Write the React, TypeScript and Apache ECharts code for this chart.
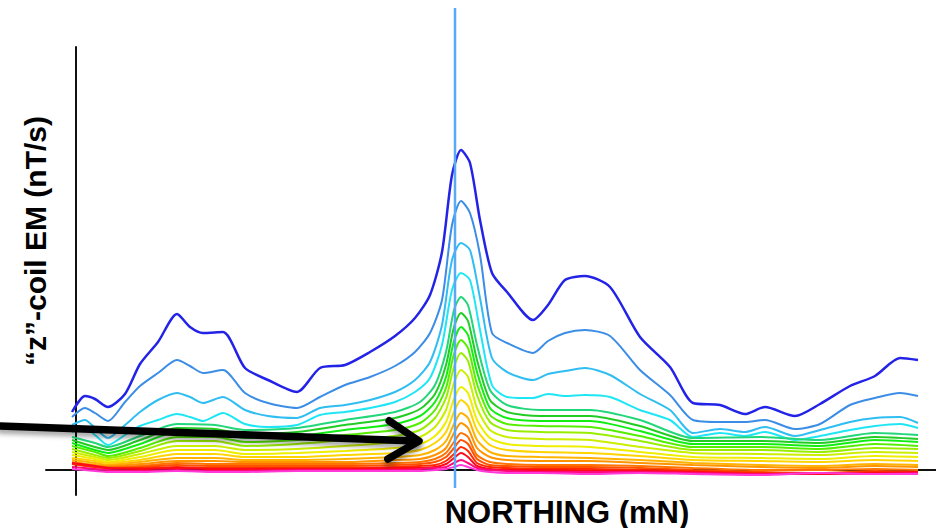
import React, { useEffect, useRef } from 'react';
import * as echarts from 'echarts';

// Northing positions (relative units) for the upper channels
const X_TOP = [-4, 9, 19, 32, 49, 64, 82, 101, 114, 127, 147, 169, 192, 221, 244, 269, 294, 319, 339, 354, 366, 376, 385, 394, 404, 416, 431, 457, 472, 489, 509, 534, 564, 594, 617, 644, 669, 689, 719, 744, 774, 799, 824, 842];

const CH1 = [58, 74, 71, 63, 76, 106, 128, 156, 143, 137, 138, 102, 90, 78, 102, 105, 118, 134, 152, 175, 218, 295, 320, 307, 250, 197, 178, 150, 165, 190, 194, 183, 133, 103, 67, 65, 56, 63, 54, 66, 84, 94, 112, 110];
const CH2 = [53, 62, 57, 49, 68, 84, 97, 110, 104, 97, 100, 77, 67, 62, 73, 85, 93, 104, 118, 137, 170, 245, 269, 257, 215, 137, 127, 117, 129, 137, 140, 134, 100, 75, 50, 48, 48, 50, 41, 46, 65, 72, 77, 74];
const CH3 = [45, 50, 42, 32, 45, 58, 70, 77, 73, 67, 73, 60, 54, 52, 62, 65, 70, 78, 90, 108, 145, 210, 227, 220, 172, 112, 98, 90, 96, 99, 102, 95, 76, 60, 37, 41, 38, 43, 34, 40, 48, 52, 53, 47];
const CH4 = [38, 42, 35, 25, 35, 44, 50, 56, 53, 49, 57, 46, 43, 45, 55, 58, 62, 68, 78, 92, 125, 180, 197, 190, 140, 85, 73, 72, 76, 74, 75, 73, 60, 50, 33, 37, 34, 38, 30, 34, 40, 44, 46, 42];

// Northing positions for the later channels
const X_LOW = [-4, 19, 32, 64, 101, 139, 169, 221, 269, 319, 344, 359, 370, 378, 385, 392, 401, 414, 431, 464, 514, 564, 617, 684, 744, 799, 842];

const CH5 = [33, 27, 23, 34, 46, 45, 40, 42, 50, 58, 68, 85, 118, 160, 173, 165, 125, 80, 65, 60, 60, 50, 32, 33, 30, 37, 35];
const CH6 = [30, 23, 20, 30, 42, 41, 36, 38, 45, 52, 61, 76, 105, 143, 157, 149, 110, 70, 58, 54, 54, 44, 29, 29, 27, 33, 31];
const CH7 = [27, 20, 17, 26, 38, 37, 32, 34, 40, 46, 54, 68, 93, 129, 143, 135, 98, 62, 52, 49, 49, 39, 26, 26, 24, 30, 28];
const CH8 = [24, 18, 14, 22, 33, 33, 28, 30, 35, 40, 47, 60, 82, 116, 130, 122, 86, 55, 46, 44, 43, 34, 23, 23, 21, 26, 24];
const CH9 = [21, 15, 12, 19, 29, 29, 24, 26, 30, 34, 40, 52, 72, 103, 117, 109, 75, 48, 40, 38, 37, 29, 20, 20, 18, 22, 21];
const CH10 = [18, 13, 10, 16, 24, 24, 20, 21, 24, 28, 33, 43, 60, 87, 100, 93, 62, 40, 33, 31, 30, 23, 17, 16, 15, 18, 17];
const CH11 = [15, 11, 8, 13, 20, 20, 16, 17, 19, 22, 26, 34, 48, 71, 83, 77, 50, 32, 26, 24, 23, 18, 13, 12, 11, 14, 13];
const CH12 = [12, 9, 7, 10, 16, 16, 13, 13, 15, 17, 20, 27, 38, 58, 70, 64, 40, 25, 20, 18, 17, 14, 10, 9, 8, 10, 9];
const CH13 = [10, 7, 5, 8, 12, 12, 10, 10, 11, 13, 15, 20, 29, 46, 57, 52, 30, 18, 14, 13, 12, 10, 7, 5, 4, 6, 5];
const CH14 = [8, 5, 4, 6, 9, 9, 8, 8, 8, 10, 11, 15, 22, 37, 47, 42, 22, 13, 10, 9, 9, 7, 5, 3, 2, 4, 3];
const CH15 = [7, 4, 3, 4, 7, 6, 6, 6, 6, 7, 8, 11, 17, 28, 37, 33, 15, 8, 6, 5, 5, 4, 2, 0, 0, 1, 0];
const CH16 = [6, 3, 2, 3, 5, 4, 4, 4, 4, 5, 6, 8, 13, 22, 30, 26, 11, 5, 4, 3, 3, 2, 0, -2, -3, -1, -2];
const CH17 = [6, 3, 2, 2, 3, 2, 2, 2, 2, 3, 4, 5, 9, 16, 23, 19, 7, 3, 2, 1, 1, 0, -1, -3, -4, -2, -3];
const CH18 = [7, 4, 2, 1, 2, 1, 1, 1, 1, 2, 2, 3, 6, 12, 17, 13, 4, 1, 0, 0, -1, -1, -2, -4, -4, -3, -2];
const CH19 = [3, 1, 0, -1, 0, -1, -1, 0, 0, 0, 1, 2, 3, 7, 10, 7, 2, 0, -1, -2, -2, -2, -3, -4, -3, -4, -3];
const CH20 = [1, -1, -2, -2, -1, -2, -2, -1, -1, -1, -1, 0, 1, 3, 5, 3, 0, -2, -3, -3, -4, -3, -4, -5, -3, -4, -4];

const CHANNEL_VALUES = [CH1, CH2, CH3, CH4, CH5, CH6, CH7, CH8, CH9, CH10, CH11, CH12, CH13, CH14, CH15, CH16, CH17, CH18, CH19, CH20];
const CHANNEL_X = [X_TOP, X_TOP, X_TOP, X_TOP, X_LOW, X_LOW, X_LOW, X_LOW, X_LOW, X_LOW, X_LOW, X_LOW, X_LOW, X_LOW, X_LOW, X_LOW, X_LOW, X_LOW, X_LOW, X_LOW];
const CHANNEL_COLORS = ['#2323e8', '#3b8de6', '#2fbdf2', '#1fe6f5', '#22d67a', '#22cc22', '#11ee11', '#55ee00', '#99ee00', '#ccee00', '#eeee00', '#ffd400', '#ffb300', '#ff9400', '#ff7300', '#ff5200', '#ff2a00', '#ff0a1a', '#ff0a78', '#ff3ad8'];

const CURSOR_X = 379;
const ARROW_FROM = [-76, 44];
const ARROW_TO = [343, 29];

const Y_TITLE = '“z”-coil EM (nT/s)';
const X_TITLE = 'NORTHING (mN)';

export default function App() {
  const ref = useRef<HTMLDivElement>(null);
  useEffect(() => {
    const chart = echarts.init(ref.current!, null, { renderer: 'svg' });
    const series = CHANNEL_VALUES.map((vals, i) => ({
      type: 'line',
      name: 'Ch ' + (i + 1),
      data: vals.map((v, j) => [CHANNEL_X[i][j], v]),
      showSymbol: false,
      symbol: 'none',
      smooth: 0.25,
      lineStyle: { color: CHANNEL_COLORS[i], width: i === 0 ? 2.5 : 2 },
      itemStyle: { color: CHANNEL_COLORS[i] },
      z: 2 + i * 0.01,
    }));
    const font = 'Liberation Sans, Arial, Helvetica, sans-serif';
    chart.setOption({
      animation: false,
      backgroundColor: '#ffffff',
      grid: { left: 46, right: 0, top: 47, bottom: 33, containLabel: false, outerBoundsMode: 'none' },
      xAxis: {
        type: 'value', min: -30, max: 860,
        axisLine: { show: true, onZero: true, lineStyle: { color: '#111', width: 2 } },
        axisTick: { show: false }, axisLabel: { show: false }, splitLine: { show: false },
      },
      yAxis: {
        type: 'value', min: -25, max: 423,
        axisLine: { show: true, onZero: true, lineStyle: { color: '#111', width: 2 } },
        axisTick: { show: false }, axisLabel: { show: false }, splitLine: { show: false },
      },
      series,
    });
    const p = (pt: number[]) => chart.convertToPixel({ gridIndex: 0 }, pt) as number[];
    const cx = p([CURSOR_X, 0])[0];
    const a = p(ARROW_FROM);
    const t = p(ARROW_TO);
    const ang = Math.atan2(a[1] - t[1], a[0] - t[0]);
    const len = 36;
    const spread = 0.56;
    const arm1 = [t[0] + len * Math.cos(ang + spread), t[1] + len * Math.sin(ang + spread)];
    const arm2 = [t[0] + len * Math.cos(ang - spread), t[1] + len * Math.sin(ang - spread)];
    chart.setOption({
      graphic: [
        {
          type: 'text', z: 100, silent: true,
          x: 35, y: 241, rotation: Math.PI / 2,
          style: { text: Y_TITLE, fontFamily: font, fontWeight: 'bold', fontSize: 30, fill: '#000', align: 'center', verticalAlign: 'middle' },
        },
        {
          type: 'text', z: 100, silent: true,
          x: 567, y: 512,
          style: { text: X_TITLE, fontFamily: font, fontWeight: 'bold', fontSize: 31, fill: '#000', align: 'center', verticalAlign: 'middle' },
        },
        {
          type: 'line', z: 100, silent: true,
          shape: { x1: cx, y1: 8, x2: cx, y2: 488 },
          style: { stroke: '#5aa9f5', lineWidth: 2.5 },
        },
        {
          type: 'line', z: 101, silent: true,
          shape: { x1: a[0], y1: a[1], x2: t[0] - 3, y2: t[1] },
          style: { stroke: '#000', lineWidth: 7.5, lineCap: 'round', shadowBlur: 5, shadowOffsetY: 4, shadowColor: 'rgba(0,0,0,0.35)' },
        },
        {
          type: 'polyline', z: 101, silent: true,
          shape: { points: [arm1, t, arm2] },
          style: { stroke: '#000', fill: null, lineWidth: 7.5, lineCap: 'round', lineJoin: 'round', shadowBlur: 5, shadowOffsetY: 4, shadowColor: 'rgba(0,0,0,0.35)' },
        },
      ],
    });
    return () => chart.dispose();
  }, []);
  return <div ref={ref} style={{ position: 'absolute', left: 0, top: 0, width: 936, height: 528 }} />;
}
